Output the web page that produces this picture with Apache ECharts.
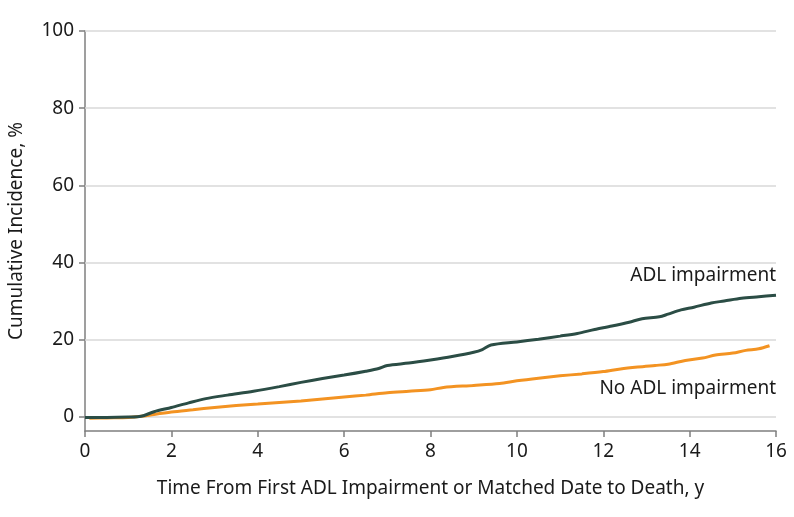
<!DOCTYPE html>
<html><head><meta charset="utf-8">
<script src="https://cdn.jsdelivr.net/npm/echarts@6/dist/echarts.min.js"></script>
<style>html,body{margin:0;padding:0;background:#fff}#c{width:794px;height:517px}</style>
</head><body><div id="c"></div>
<script>
const yTicks = [0, 20, 40, 60, 80, 100];
const xTicks = [0, 2, 4, 6, 8, 10, 12, 14, 16];
const adlX = [0, 0.5, 1.0, 1.3, 1.6, 2.0, 2.4, 2.8, 3.3, 3.9, 4.5, 5.0, 5.5, 6.0, 6.5, 6.8, 7.0, 7.5, 8.0, 8.5, 9.0, 9.2, 9.4, 10.0, 10.5, 11.0, 11.4, 11.8, 12.2, 12.6, 12.9, 13.3, 13.5, 13.8, 14.1, 14.5, 14.8, 15.2, 15.6, 16.0];
const adlY = [-0.2, -0.2, -0.1, 0.1, 1.3, 2.4, 3.6, 4.7, 5.6, 6.6, 7.8, 8.9, 9.9, 10.8, 11.8, 12.5, 13.3, 13.9, 14.7, 15.6, 16.7, 17.4, 18.6, 19.4, 20.1, 20.9, 21.6, 22.6, 23.5, 24.5, 25.4, 25.9, 26.6, 27.7, 28.4, 29.5, 30.0, 30.7, 31.1, 31.5];
const noAdlX = [0.1, 0.5, 1.0, 1.3, 1.6, 2.0, 2.5, 3.0, 3.5, 4.0, 4.5, 5.0, 5.5, 6.0, 6.5, 7.0, 7.5, 8.0, 8.3, 9.0, 9.6, 10.0, 10.5, 11.0, 11.5, 12.0, 12.4, 12.8, 13.2, 13.5, 13.9, 14.3, 14.6, 15.0, 15.3, 15.6, 15.85];
const noAdlY = [-0.4, -0.3, -0.2, 0.1, 0.6, 1.2, 1.8, 2.4, 2.9, 3.3, 3.7, 4.1, 4.6, 5.1, 5.6, 6.2, 6.6, 7.0, 7.6, 8.1, 8.6, 9.3, 10.0, 10.6, 11.1, 11.7, 12.4, 12.9, 13.3, 13.6, 14.6, 15.2, 16.0, 16.5, 17.2, 17.6, 18.4];
const seriesNames = ['ADL impairment', 'No ADL impairment'];
const labelPos = [[16, 36.5], [16, 7.2]];

const FONT = 'Noto Sans';
const FS = 19;
const TXT = '#1a1a1a';
const chart = echarts.init(document.getElementById('c'), null, {renderer: 'canvas'});
const zip = (xs, ys) => xs.map((x, i) => [x, ys[i]]);
chart.setOption({
  animation: false,
  grid: {left: 85, right: 18, top: 31, bottom: 86, containLabel: false, outerBoundsMode: 'none'},
  xAxis: {
    type: 'value', min: 0, max: 16, interval: 2,
    name: 'Time From First ADL Impairment or Matched Date to Death, y',
    nameLocation: 'middle', nameGap: 48,
    nameTextStyle: {fontFamily: FONT, fontSize: FS, color: TXT},
    axisLine: {onZero: false, lineStyle: {color: '#7f7f7f', width: 1.5}},
    axisTick: {show: true, length: 6, lineStyle: {color: '#7f7f7f', width: 1.5}},
    axisLabel: {fontFamily: FONT, fontSize: FS, color: TXT, margin: 11},
    splitLine: {show: false}
  },
  yAxis: {
    type: 'value', min: -3.7, max: 100,
    name: 'Cumulative Incidence, %',
    nameLocation: 'middle', nameGap: 59,
    nameTextStyle: {fontFamily: FONT, fontSize: FS, color: TXT},
    axisLine: {show: true, lineStyle: {color: '#7f7f7f', width: 1.5}},
    axisTick: {show: true, length: 6, customValues: yTicks, lineStyle: {color: '#7f7f7f', width: 1.5}},
    axisLabel: {fontFamily: FONT, fontSize: FS, color: TXT, margin: 11, customValues: yTicks},
    splitLine: {show: false}
  },
  series: [
    {
      name: seriesNames[0], type: 'line', data: zip(adlX, adlY), showSymbol: false, smooth: 0.3, z: 4,
      lineStyle: {color: '#2b4d45', width: 3}, itemStyle: {color: '#2b4d45'},
      markLine: {
        silent: true, symbol: 'none', z: 1, label: {show: false},
        lineStyle: {color: '#d9d9d9', width: 1.5, type: 'solid'},
        data: yTicks.map(v => ({yAxis: v}))
      }
    },
    {
      name: seriesNames[1], type: 'line', data: zip(noAdlX, noAdlY), showSymbol: false, smooth: 0.3, z: 3,
      lineStyle: {color: '#f39322', width: 3}, itemStyle: {color: '#f39322'}
    }
  ]
});
const gfx = labelPos.map((p, i) => {
  const px = chart.convertToPixel({gridIndex: 0}, p);
  return {type: 'text', x: px[0], y: px[1], style: {text: seriesNames[i], font: FS + 'px "' + FONT + '"', fill: TXT, align: 'right', verticalAlign: 'middle'}};
});
chart.setOption({graphic: gfx});
</script></body></html>
